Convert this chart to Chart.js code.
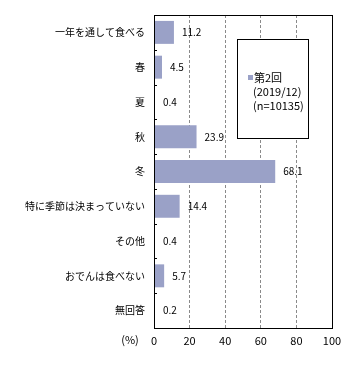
<!DOCTYPE html>
<html>
<head>
<meta charset="utf-8">
<script src="https://cdn.jsdelivr.net/npm/chart.js@4/dist/chart.umd.min.js"></script>
<style>
  html, body { margin: 0; padding: 0; background: #fff; }
  #wrap { width: 363px; height: 368px; }
</style>
</head>
<body>
<div id="wrap"><canvas id="chart"></canvas></div>
<script>
// data
var categories = ["一年を通して食べる", "春", "夏", "秋", "冬", "特に季節は決まっていない", "その他", "おでんは食べない", "無回答"];
var values = [11.2, 4.5, 0.4, 23.9, 68.1, 14.4, 0.4, 5.7, 0.2];
var seriesName = "第2回";
var legendLines = ["(2019/12)", "(n=10135)"];
var xTicks = [0, 20, 40, 60, 80, 100];
var unitLabel = "(%)";

var FONT = "'Noto Sans CJK JP', 'DejaVu Sans', sans-serif";
var BAR = "#9aa1c7";

// frame, inner y ticks, unit label, value labels, legend box
var extras = {
  id: "extras",
  afterDraw: function (chart) {
    var ctx = chart.ctx;
    var a = chart.chartArea;
    ctx.save();

    ctx.strokeStyle = "#000";
    ctx.lineWidth = 1;
    ctx.strokeRect(Math.round(a.left) + 0.5, Math.round(a.top) + 0.5,
      Math.round(a.right - a.left), Math.round(a.bottom - a.top));

    var step = (a.bottom - a.top) / categories.length;
    for (var i = 1; i < categories.length; i++) {
      var ty = Math.round(a.top + step * i) + 0.5;
      ctx.beginPath();
      ctx.moveTo(a.left, ty);
      ctx.lineTo(a.left + 3, ty);
      ctx.stroke();
    }

    ctx.fillStyle = "#000";
    ctx.font = "11px " + FONT;
    ctx.textBaseline = "middle";
    ctx.textAlign = "center";
    ctx.fillText(unitLabel, 130, chart.scales.x.bottom - 28);

    ctx.textAlign = "left";
    ctx.font = "10px " + FONT;
    var meta = chart.getDatasetMeta(0);
    meta.data.forEach(function (bar, idx) {
      ctx.fillText(values[idx].toFixed(1), bar.x + 8, bar.y);
    });

    // legend box
    var lx = 237.5, ly = 39.5, lw = 71, lh = 99;
    ctx.fillStyle = "#fff";
    ctx.fillRect(lx, ly, lw, lh);
    ctx.strokeRect(lx, ly, lw, lh);
    ctx.fillStyle = BAR;
    ctx.fillRect(248, 75, 5, 5);
    ctx.fillStyle = "#000";
    ctx.font = "11px " + FONT;
    ctx.fillText(seriesName, 254, 78);
    ctx.fillText(legendLines[0], 253, 92);
    ctx.fillText(legendLines[1], 253, 106);

    ctx.restore();
  }
};

new Chart(document.getElementById("chart"), {
  type: "bar",
  data: {
    labels: categories,
    datasets: [{
      label: seriesName,
      data: values,
      backgroundColor: BAR,
      borderWidth: 0,
      barPercentage: 0.66,
      categoryPercentage: 1.0,
      minBarLength: 1
    }]
  },
  options: {
    indexAxis: "y",
    responsive: true,
    maintainAspectRatio: false,
    animation: false,
    layout: { padding: { top: 15, right: 31, left: 0, bottom: 0 } },
    scales: {
      x: {
        min: 0,
        max: 100,
        afterBuildTicks: function (scale) {
          scale.ticks = xTicks.map(function (v) { return { value: v }; });
        },
        afterFit: function (scale) { scale.height = 40; },
        grid: {
          color: "#8a8a8a",
          lineWidth: function (c) { return (c.tick.value === 0 || c.tick.value === 100) ? 0 : 1; },
          drawTicks: false
        },
        border: { display: false, dash: [3, 2] },
        ticks: { color: "#000", font: { family: FONT, size: 11 }, padding: 6 }
      },
      y: {
        afterFit: function (scale) { scale.width = 154; },
        grid: { display: false, drawTicks: false },
        border: { display: false },
        ticks: { color: "#000", font: { family: FONT, size: 10 }, padding: 9 }
      }
    },
    plugins: {
      legend: { display: false },
      tooltip: { enabled: false }
    }
  },
  plugins: [extras]
});
</script>
</body>
</html>
